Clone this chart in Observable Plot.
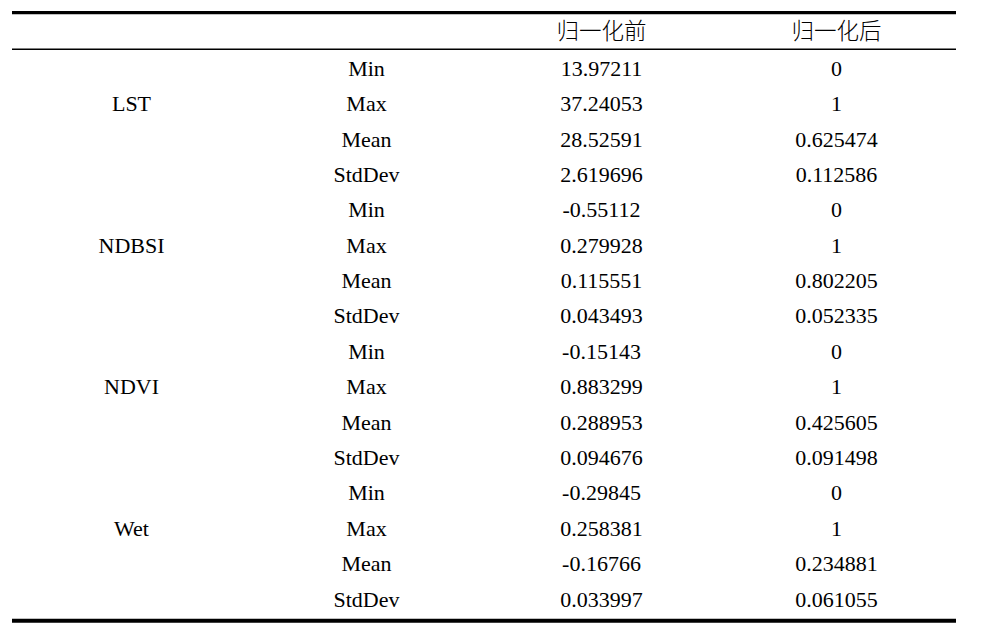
<!DOCTYPE html>
<html>
<head>
<meta charset="utf-8">
<script src="https://cdn.jsdelivr.net/npm/d3@7"></script>
<script src="https://cdn.jsdelivr.net/npm/@observablehq/plot@0.6"></script>
<style>
  html, body { margin: 0; padding: 0; background: #fff; }
</style>
</head>
<body>
<div id="chart"></div>
<script>
// ---- data ----
const headers = ["归一化前", "归一化后"];
const indices = ["LST", "NDBSI", "NDVI", "Wet"];
const stats = ["Min", "Max", "Mean", "StdDev"];
const beforeValues = [
  "13.97211", "37.24053", "28.52591", "2.619696",
  "-0.55112", "0.279928", "0.115551", "0.043493",
  "-0.15143", "0.883299", "0.288953", "0.094676",
  "-0.29845", "0.258381", "-0.16766", "0.033997"
];
const afterValues = [
  "0", "1", "0.625474", "0.112586",
  "0", "1", "0.802205", "0.052335",
  "0", "1", "0.425605", "0.091498",
  "0", "1", "0.234881", "0.061055"
];

// ---- table built from the arrays ----
const columns = ["group", "stat", "before", "after"];
const rows = beforeValues.map((b, i) => ({
  row: i,
  stat: stats[i % stats.length],
  before: b,
  after: afterValues[i]
}));
const groupRows = indices.map((g, k) => ({ row: k * stats.length + 1, label: g }));
const headerRows = headers.map((h, k) => ({ col: columns[k + 2], label: h }));

// layout (row units)
const headerRow = -1.03;
const topRule = -1.585, midRule = -0.55, bottomRule = 15.6;

const serif = "'Liberation Serif', 'Times New Roman', serif";
const cjk = "'Noto Sans CJK SC', sans-serif";
const fs = 22;

const chart = Plot.plot({
  width: 989,
  height: 632,
  marginLeft: 12,
  marginRight: 33,
  marginTop: 0,
  marginBottom: 0,
  x: { type: "point", domain: columns, range: [130, 837], padding: 0, axis: null },
  y: { type: "linear", domain: [0, 15], range: [68.2, 599], axis: null },
  style: { fontFamily: serif, background: "#fff", color: "#000" },
  marks: [
    Plot.ruleY([topRule], { stroke: "#000", strokeWidth: 3.4 }),
    Plot.ruleY([midRule], { stroke: "#000", strokeWidth: 1.6 }),
    Plot.ruleY([bottomRule], { stroke: "#000", strokeWidth: 4.2 }),
    Plot.text(headerRows, {
      x: "col", y: () => headerRow, text: "label",
      fontSize: 22.5, fontFamily: cjk, fontWeight: 300, fill: "#000"
    }),
    Plot.text(groupRows, {
      x: () => "group", y: "row", text: "label",
      fontSize: fs, fill: "#000"
    }),
    Plot.text(rows, { x: () => "stat", y: "row", text: "stat", fontSize: fs, fill: "#000" }),
    Plot.text(rows, { x: () => "before", y: "row", text: "before", fontSize: fs, fill: "#000" }),
    Plot.text(rows, { x: () => "after", y: "row", text: "after", fontSize: fs, fill: "#000" })
  ]
});
document.getElementById("chart").appendChild(chart);
</script>
</body>
</html>
